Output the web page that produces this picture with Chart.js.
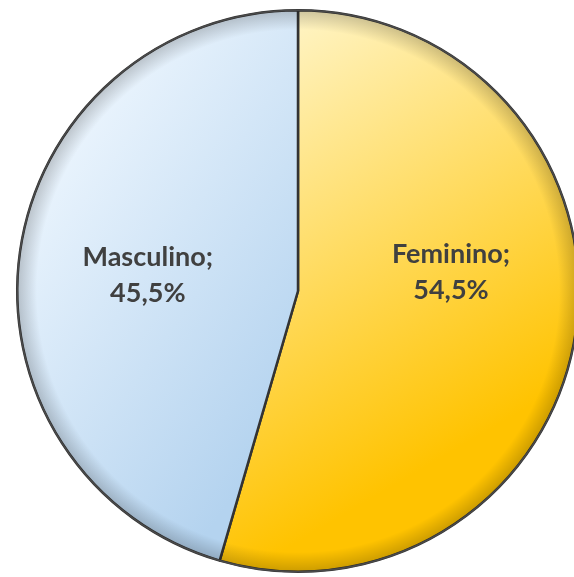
<!DOCTYPE html>
<html lang="pt-BR">
<head>
<meta charset="UTF-8">
<title>Sexo</title>
<script src="https://cdn.jsdelivr.net/npm/chart.js"></script>
<style>
  html, body { margin: 0; padding: 0; background: #fff; }
  #wrap { width: 600px; height: 577px; overflow: hidden; position: relative; }
</style>
</head>
<body>
<div id="wrap"><canvas id="sexoChart"></canvas></div>
<script>
// Distribuição por sexo (%)
const categorias = ['Feminino', 'Masculino'];
const percentuais = [54.5, 45.5];

// cores de cada fatia: [claro, escuro] do degradê
const coresFatia = [
  ['#fff6cc', '#ffc300'],
  ['#eaf4fd', '#b4d3ef']
];

// posição dos rótulos em fração do raio, relativa ao centro
const posRotulos = [[0.545, -0.07], [-0.535, -0.06]];

function centroPizza(chart) {
  const a = chart.chartArea;
  return {
    x: (a.left + a.right) / 2,
    y: (a.top + a.bottom) / 2,
    r: Math.min(a.right - a.left, a.bottom - a.top) / 2
  };
}

function fundoFatia(ctx) {
  const chart = ctx.chart;
  if (!chart.chartArea) return coresFatia[ctx.dataIndex][1];
  const { x, y, r } = centroPizza(chart);
  const c = chart.ctx;
  let g;
  if (ctx.dataIndex === 0) {
    g = c.createLinearGradient(x - r * 0.1, y - r, x + r * 0.75, y + r * 0.45);
  } else {
    g = c.createLinearGradient(x - r, y - r * 0.3, x, y + r * 0.4);
  }
  g.addColorStop(0, coresFatia[ctx.dataIndex][0]);
  g.addColorStop(1, coresFatia[ctx.dataIndex][1]);
  return g;
}

// sombreado na borda do círculo para dar volume
const bisel = {
  id: 'bisel',
  afterDatasetsDraw(chart) {
    const arc = chart.getDatasetMeta(0).data[0];
    if (!arc) return;
    const { x, y, outerRadius: r } = arc;
    const c = chart.ctx;
    c.save();
    const g = c.createRadialGradient(x, y, r * 0.93, x, y, r);
    g.addColorStop(0, 'rgba(0,0,0,0)');
    g.addColorStop(1, 'rgba(0,0,0,0.2)');
    c.beginPath();
    c.arc(x, y, r, 0, Math.PI * 2);
    c.fillStyle = g;
    c.fill();
    c.lineWidth = 1.5;
    c.strokeStyle = '#4a4a4a';
    c.stroke();
    c.restore();
  }
};

// rótulos "categoria; valor%" dentro das fatias
const rotulos = {
  id: 'rotulos',
  afterDraw(chart) {
    const meta = chart.getDatasetMeta(0);
    const c = chart.ctx;
    c.save();
    c.font = 'bold 27px Lato, "Open Sans", sans-serif';
    c.fillStyle = '#404040';
    c.textAlign = 'center';
    c.textBaseline = 'alphabetic';
    meta.data.forEach((arc, i) => {
      const { x, y, outerRadius: r } = arc;
      const px = x + posRotulos[i][0] * r;
      const py = y + posRotulos[i][1] * r;
      c.fillText(categorias[i] + ';', px, py - 8);
      c.fillText(percentuais[i].toFixed(1).replace('.', ',') + '%', px, py + 28);
    });
    c.restore();
  }
};

new Chart(document.getElementById('sexoChart'), {
  type: 'pie',
  data: {
    labels: categorias,
    datasets: [{
      data: percentuais,
      backgroundColor: fundoFatia,
      borderColor: '#333333',
      borderWidth: 2.5
    }]
  },
  options: {
    responsive: true,
    maintainAspectRatio: false,
    animation: false,
    layout: { padding: { left: 16, right: 20, top: 9, bottom: 4 } },
    plugins: {
      legend: { display: false },
      tooltip: { enabled: false }
    }
  },
  plugins: [bisel, rotulos]
});
</script>
</body>
</html>
